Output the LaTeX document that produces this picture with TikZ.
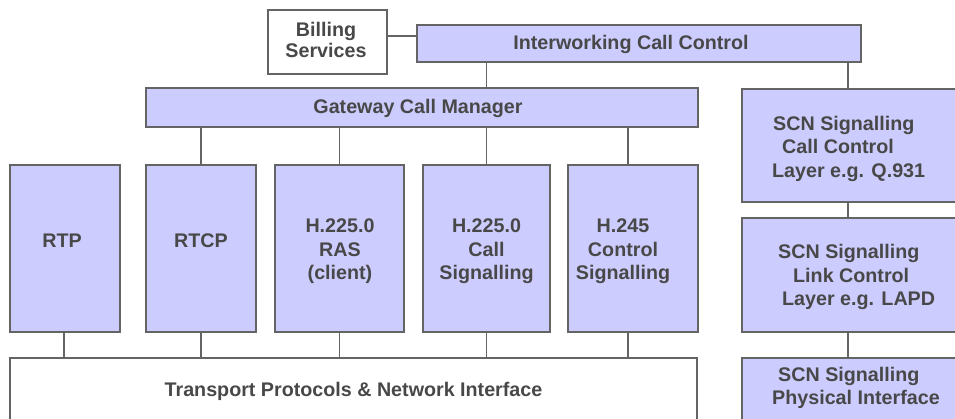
\documentclass[tikz,border=0pt]{standalone}
\usepackage{fontspec}
\setmainfont{Liberation Sans}
\usetikzlibrary{shadows}
\definecolor{lav}{RGB}{204,204,255}
\definecolor{bordergray}{RGB}{100,100,100}
\definecolor{txtgray}{RGB}{72,72,72}
\tikzset{
  box/.style={draw=bordergray, line width=2pt, fill=lav, inner sep=0pt,
    drop shadow={shadow xshift=1.2pt, shadow yshift=-1.2pt, fill=bordergray, opacity=1}},
  wbox/.style={box, fill=white},
  txt/.style={inner sep=0pt, align=center, text=txtgray,
    font=\bfseries\fontsize{19.7}{23.5}\selectfont},
  ltxt/.style={txt, align=left, anchor=west},
  conn/.style={draw=bordergray, line width=1.8pt}
}
\begin{document}
\begin{tikzpicture}[x=1pt,y=-1pt]
\useasboundingbox (0,0) rectangle (955,419);
\clip (0,0) rectangle (955,419);
\fill[white] (0,0) rectangle (955,419);
% top row
\node[wbox, minimum width=119pt, minimum height=64pt] (bill) at (327.5,42) {};
\node[box, minimum width=444pt, minimum height=37pt] (icc) at (639,43.5) {};
\node[box, minimum width=552pt, minimum height=39pt] (gcm) at (422,107.5) {};
% protocol boxes
\node[box, minimum width=110pt, minimum height=167pt] (rtp) at (65,248.5) {};
\node[box, minimum width=110pt, minimum height=167pt] (rtcp) at (201,248.5) {};
\node[box, minimum width=129pt, minimum height=167pt] (ras) at (339.5,248.5) {};
\node[box, minimum width=127pt, minimum height=167pt] (call) at (486.5,248.5) {};
\node[box, minimum width=130pt, minimum height=167pt] (h245) at (633,248.5) {};
\node[wbox, minimum width=687pt, minimum height=66pt] (trans) at (353.5,391) {};
% SCN column
\node[box, minimum width=216pt, minimum height=113pt] (scncc) at (850,145.5) {};
\node[box, minimum width=216pt, minimum height=114pt] (link) at (850,275) {};
\node[box, minimum width=216pt, minimum height=66pt] (phys) at (850,391) {};
% texts
\node[txt, font=\bfseries\fontsize{19.7}{21}\selectfont] (bill-t) at (326,40) {Billing\\Services};
\node[txt] (icc-t) at (631,44) {Interworking Call Control};
\node[txt] (gcm-t) at (418,108) {Gateway Call Manager};
\node[txt] (rtp-t) at (62,241) {RTP};
\node[txt] (rtcp-t) at (201,241) {RTCP};
\node[txt] (ras-t) at (340,251.5) {H.225.0\\RAS\\(client)};
\node[txt] (call-t) at (486.5,251.5) {H.225.0\\Call\\Signalling};
\node[txt] (h245-t) at (623,251.5) {H.245\\Control\\Signalling};
\node[txt] (trans-t) at (353.5,391) {Transport Protocols \& Network Interface};
\node[ltxt] (scncc-t) at (772,148.5) {\hspace*{1pt}SCN Signalling\\\hspace*{10pt}Call Control\\Layer e.g. Q.931};
\node[ltxt] (link-t) at (777,277) {\hspace*{1pt}SCN Signalling\\\hspace*{16pt}Link Control\\\hspace*{5pt}Layer e.g. LAPD};
\node[ltxt] (phys-t) at (772,388) {\hspace*{6pt}SCN Signalling\\Physical Interface};
% connectors
\draw[conn] ([yshift=6pt]bill.east) -- ([yshift=6pt]bill.east -| icc.west);
\draw[conn] (icc.south -| call.north) -- (gcm.north -| call.north);
\draw[conn] ([xshift=-2pt]icc.south -| scncc.north) -- ([xshift=-2pt]scncc.north);
\draw[conn] (gcm.south -| rtcp.north) -- (rtcp.north);
\draw[conn] (gcm.south -| ras.north) -- (ras.north);
\draw[conn] (gcm.south -| call.north) -- (call.north);
\draw[conn] ([xshift=-5pt]gcm.south -| h245.north) -- ([xshift=-5pt]h245.north);
\draw[conn] ([xshift=-1pt]rtp.south) -- ([xshift=-1pt]rtp.south |- trans.north);
\draw[conn] (rtcp.south) -- (rtcp.south |- trans.north);
\draw[conn] (ras.south) -- (ras.south |- trans.north);
\draw[conn] (call.south) -- (call.south |- trans.north);
\draw[conn] ([xshift=-5pt]h245.south) -- ([xshift=-5pt]h245.south |- trans.north);
\draw[conn] ([xshift=-2pt]scncc.south) -- ([xshift=-2pt]link.north);
\draw[conn] ([xshift=-2pt]link.south) -- ([xshift=-2pt]phys.north);
\end{tikzpicture}
\end{document}
